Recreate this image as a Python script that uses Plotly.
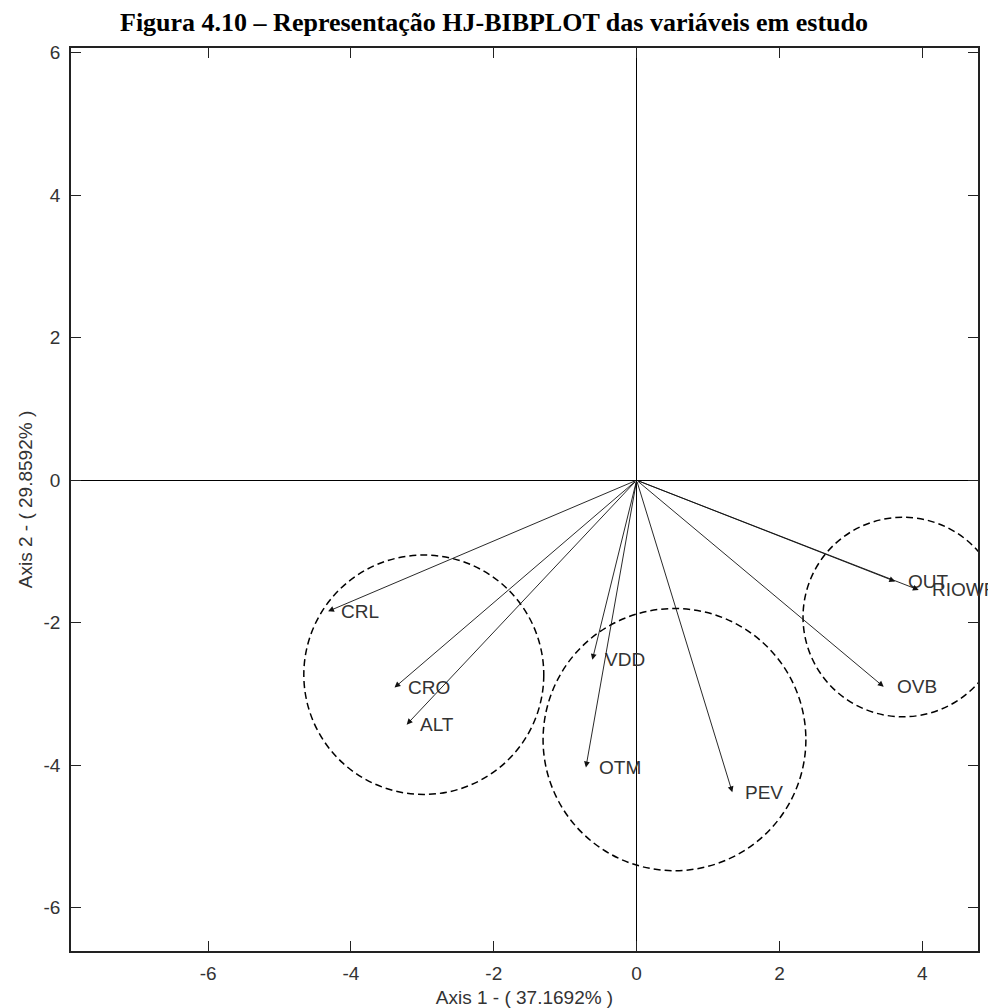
import plotly.graph_objects as go

# ---- data ----
variables   = ["CRL", "CRO", "ALT", "VDD", "OTM", "PEV", "OVB", "OUT", "RIO"]
label_text  = ["CRL", "CRO", "ALT", "VDD", "OTM", "PEV", "OVB", "OUT", "RIOWF"]
axis1       = [-4.32, -3.39, -3.22, -0.62, -0.71, 1.34, 3.46, 3.62, 3.95]
axis2       = [-1.84, -2.91, -3.43, -2.52, -4.03, -4.38, -2.90, -1.42, -1.54]

circle_x = [-2.98, 0.53, 3.73]
circle_y = [-2.73, -3.64, -1.92]
circle_r = [1.68, 1.84, 1.40]

x_ticks = [-6, -4, -2, 0, 2, 4]
x_tick_labels = ["-6", "-4", "-2", "0", "2", "4"]
y_ticks = [-6, -4, -2, 0, 2, 4, 6]
y_tick_labels = ["-6", "-4", "-2", "0", "2", "4", "6"]
x_range = [-7.92, 4.78]
y_range = [-6.607, 6.066]

title_text = "Figura 4.10 – Representação HJ-BIBPLOT das variáveis em estudo"
x_title = "Axis 1 - ( 37.1692% )"
y_title = "Axis 2 - ( 29.8592% )"

SANS = "Liberation Sans, Arial, sans-serif"
SERIF = "Liberation Serif, Times New Roman, serif"

fig = go.Figure()
fig.add_trace(go.Scatter(x=axis1, y=axis2, mode="markers",
                         marker=dict(size=1, opacity=0), hoverinfo="skip",
                         showlegend=False))

annotations = []
for name, lab, x, y in zip(variables, label_text, axis1, axis2):
    annotations.append(dict(x=x, y=y, ax=0, ay=0, xref="x", yref="y",
                            axref="x", ayref="y", text="", showarrow=True,
                            arrowhead=2, arrowsize=1.3, arrowwidth=0.9,
                            arrowcolor="#111", standoff=0, startstandoff=0))
    annotations.append(dict(x=x, y=y, xref="x", yref="y", text=lab,
                            showarrow=False, xanchor="left", yanchor="middle",
                            xshift=11, font=dict(family=SANS, size=19, color="#333")))

shapes = []
for cx, cy, r in zip(circle_x, circle_y, circle_r):
    shapes.append(dict(type="circle", xref="x", yref="y",
                       x0=cx - r, x1=cx + r, y0=cy - r, y1=cy + r,
                       line=dict(color="black", width=1.5, dash="7px,4px")))

axis_common = dict(showgrid=False, zeroline=True, zerolinecolor="black",
                   zerolinewidth=1.3, showline=True, linecolor="#222",
                   linewidth=1.5, mirror="ticks", ticks="inside", ticklen=10,
                   tickwidth=1.3, tickcolor="#222", automargin=False,
                   tickfont=dict(family=SANS, size=19, color="#333"))

fig.update_layout(
    width=988, height=1008,
    margin=dict(l=71, r=10, t=48, b=57),
    paper_bgcolor="white", plot_bgcolor="white",
    title=dict(text="<b>" + title_text + "</b>", x=0.5, xanchor="center",
               y=1 - 22 / 1008, yanchor="middle",
               font=dict(family=SERIF, size=26, color="black")),
    xaxis=dict(range=x_range, tickvals=x_ticks, ticktext=x_tick_labels,
               ticklabelstandoff=4,
               title=dict(text=x_title, standoff=9,
                          font=dict(family=SANS, size=19, color="#333")),
               **axis_common),
    yaxis=dict(range=y_range, tickvals=y_ticks, ticktext=y_tick_labels,
               ticklabelstandoff=5,
               title=dict(text=y_title, standoff=6,
                          font=dict(family=SANS, size=19, color="#333")),
               **axis_common),
    annotations=annotations,
    shapes=shapes,
    showlegend=False,
)

fig.write_html("out.html")
